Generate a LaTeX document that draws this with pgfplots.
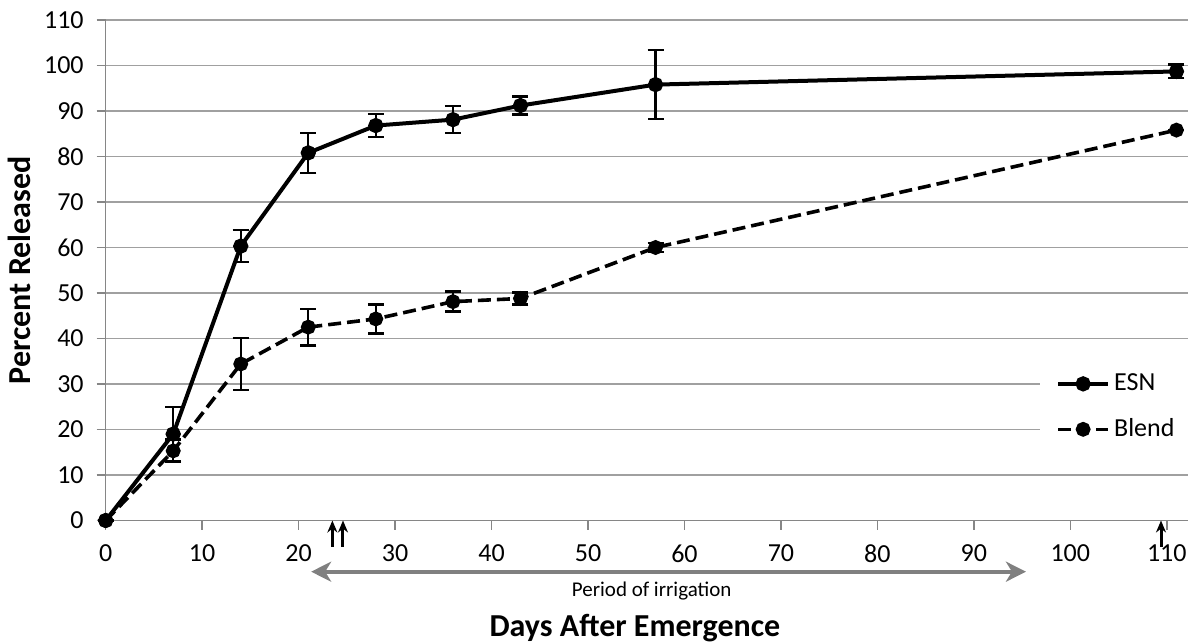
\documentclass[border=0pt]{standalone}
\usepackage{fontspec}
\setmainfont{Carlito}
\usepackage{pgfplots}
\pgfplotsset{compat=1.18}
\usetikzlibrary{arrows.meta}
\definecolor{gridgray}{HTML}{A0A0A0}
\definecolor{axgray}{HTML}{868686}
\definecolor{arrgray}{HTML}{808080}
\begin{document}
\begin{tikzpicture}
\begin{axis}[
  at={(0,0)}, anchor=south west,
  scale only axis,
  width=541.15pt, height=250.25pt,
  xmin=0, xmax=112.2, ymin=0, ymax=110,
  xtick={0,10,...,110}, ytick={0,10,...,110},
  axis x line=bottom, axis y line=left,
  axis line style={axgray, line width=0.8pt, -},
  tick style={axgray, line width=0.8pt},
  tick align=outside, major tick length=4.5pt,
  ymajorgrids, grid style={gridgray, line width=0.8pt},
  clip=false,
  /pgf/number format/assume math mode=true,
  tick label style={font=\fontsize{13}{15}\selectfont},
  xticklabel style={yshift=-4pt},
  yticklabel style={xshift=-3pt},
  xlabel={\textbf{Days After Emergence}},
  ylabel={\textbf{Percent Released}},
  xlabel style={at={(axis description cs:0.489,-0.2148)}, anchor=center, font=\fontsize{16}{19}\selectfont},
  ylabel style={at={(axis description cs:-0.0800,0.5)}, anchor=center, rotate=0, font=\fontsize{16}{19}\selectfont},
  legend style={at={(axis description cs:0.863,0.227)}, anchor=west, draw=none, fill=white,
    font=\fontsize{13}{15}\selectfont, row sep=8.5pt, inner xsep=8pt, inner ysep=4pt},
  legend cell align=left,
  legend image code/.code={\draw[#1] (0pt,0pt) -- (25pt,0pt); \draw[#1,solid] plot coordinates {(12.5pt,0pt)};},
]
\addplot+[black, line width=2pt, mark=*, mark size=2.8pt, mark options={solid, fill=black},
  error bars/.cd, y dir=both, y explicit,
  error bar style={black, line width=1.2pt, solid},
  error mark options={black, rotate=90, mark size=4pt, line width=1.2pt}]
  coordinates {
  (0,0) +- (0,0)
  (7,19.0) +- (0,5.9)
  (14,60.3) +- (0,3.5)
  (21,80.8) +- (0,4.4)
  (28,86.8) +- (0,2.5)
  (36,88.1) +- (0,3.0)
  (43,91.2) +- (0,2.0)
  (57,95.8) +- (0,7.6)
  (111,98.7) +- (0,1.5)
  };
\addlegendentry{ESN}
\addplot+[black, line width=1.8pt, dash pattern=on 6.5pt off 3pt, mark=*, mark size=2.8pt, mark options={solid, fill=black},
  error bars/.cd, y dir=both, y explicit,
  error bar style={black, line width=1.2pt, solid},
  error mark options={black, rotate=90, mark size=4pt, line width=1.2pt}]
  coordinates {
  (0,0) +- (0,0)
  (7,15.3) +- (0,2.5)
  (14,34.4) +- (0,5.7)
  (21,42.5) +- (0,4.0)
  (28,44.3) +- (0,3.2)
  (36,48.1) +- (0,2.2)
  (43,48.8) +- (0,1.3)
  (57,60.0) +- (0,1.0)
  (111,85.8) +- (0,0)
  };
\addlegendentry{Blend}
% irrigation events
\draw[black, line width=1.5pt, -{Stealth[length=6pt,width=5pt]}] (axis cs:23.5,-5.8) -- (axis cs:23.5,0);
\draw[black, line width=1.5pt, -{Stealth[length=6pt,width=5pt]}] (axis cs:24.6,-5.8) -- (axis cs:24.6,0);
\draw[black, line width=1.5pt, -{Stealth[length=6pt,width=5pt]}] (axis cs:109.4,-5.8) -- (axis cs:109.4,0);
% period of irrigation
\draw[arrgray, line width=2pt, {Stealth[length=10pt,width=10pt,inset=3pt]}-{Stealth[length=10pt,width=10pt,inset=3pt]}] (axis cs:21.3,-11.25) -- (axis cs:95.4,-11.25);
\node[font=\fontsize{10.5}{12}\selectfont] at (axis cs:56.6,-15.4) {Period of irrigation};
\end{axis}
\pgfresetboundingbox
\useasboundingbox (-52.85pt,-60.75pt) rectangle (541.15pt,260.25pt);
\end{tikzpicture}
\end{document}
